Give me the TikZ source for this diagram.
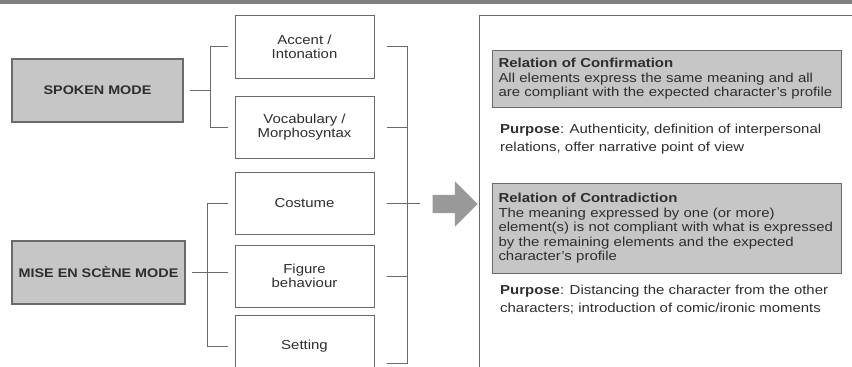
\documentclass[tikz,border=0pt]{standalone}
\usepackage{fontspec}
\setmainfont[FakeStretch=1.15]{Liberation Sans}
\usetikzlibrary{calc,shapes.arrows}
\definecolor{boxgray}{HTML}{C6C6C6}
\definecolor{linegray}{HTML}{6A6A6A}
\definecolor{txtgray}{HTML}{2E2E2E}
\begin{document}
\begin{tikzpicture}[x=1pt,y=-1pt]
\tikzstyle{mode}=[draw=linegray,line width=1.1pt,fill=boxgray,minimum height=63pt,
inner sep=0pt,outer sep=7pt,font=\fontsize{12.5}{14}\selectfont\bfseries,text=txtgray]
\tikzstyle{item}=[draw=linegray,line width=1pt,fill=white,minimum width=139pt,
minimum height=62pt,inner sep=0pt,outer sep=7pt,align=center,
font=\fontsize{13}{14}\selectfont,text=txtgray]
\tikzstyle{relbox}=[draw=linegray,line width=1pt,fill=boxgray,anchor=north west,
text width=337pt,inner xsep=6pt,inner ysep=0pt,align=left,
font=\fontsize{13}{14.5}\selectfont,text=txtgray]
\tikzstyle{purpose}=[anchor=north west,inner sep=0pt,align=left,
font=\fontsize{13}{17.5}\selectfont,text=txtgray]

\useasboundingbox (0,0) rectangle (852,367);
\clip (0,0) rectangle (852,367);
\fill[gray] (0,0) rectangle (852,4);

\draw (97.5,90.5)  node (spoken) [mode,minimum width=171pt] {SPOKEN MODE};
\draw (98.5,272.5)  node (mise) [mode,minimum width=173pt] {MISE EN SCÈNE MODE};

\draw (304.5,46.5)  node (accent) [item,minimum height=63pt] {Accent /\\Intonation};
\draw (304.5,127)  node (vocab) [item] {Vocabulary /\\Morphosyntax};
\draw (304.5,203)  node (costume) [item] {Costume};
\draw (304.5,276)  node (figure) [item] {Figure\\behaviour};
\draw (304.5,346.5)  node (setting) [item,minimum height=63pt] {Setting};

\begin{scope}[draw=linegray,line width=1pt]
\draw (spoken.east) -- ++(20,0);
\draw (accent.west) -- ++(-18,0) |- (vocab.west);
\draw (mise.east) -- (mise.east -| figure.west);
\draw (costume.west) -- ++(-21,0) |- (setting.west);

\coordinate (rbot) at (407,363);
\draw ([xshift=6pt]accent.east) -- ++(20,0) -- (rbot) -- ++(-20,0);
\foreach \n in {vocab,costume,figure}
  \draw ([xshift=6pt]\n.east) -- ++(20,0);
\draw (costume.east -| rbot) -- ++(13,0);
\end{scope}

\draw (450.5,204)  node (arrow) [single arrow,fill=gray!80,draw=none,inner sep=9pt,
minimum height=45pt,single arrow head extend=13.5pt] {};

\draw[linegray,line width=1pt] (852,15) -- (479,15) -- (479,367);

\draw (492,50)  node (confirm) [relbox,minimum height=57pt]
{\textbf{Relation of Confirmation}\\All elements express the same meaning and all\\
are compliant with the expected character's profile};
\draw (500,124)  node (purpA) [purpose]
{\textbf{Purpose}: Authenticity, definition of interpersonal\\relations, offer narrative point of view};

\draw (492,183)  node (contra) [relbox,minimum height=90pt]
{\textbf{Relation of Contradiction}\\The meaning expressed by one (or more)\\
element(s) is not compliant with what is expressed\\by the remaining elements and the expected\\
character's profile};
\draw (500,285)  node (purpB) [purpose]
{\textbf{Purpose}: Distancing the character from the other\\characters; introduction of comic/ironic moments};
\end{tikzpicture}
\end{document}
